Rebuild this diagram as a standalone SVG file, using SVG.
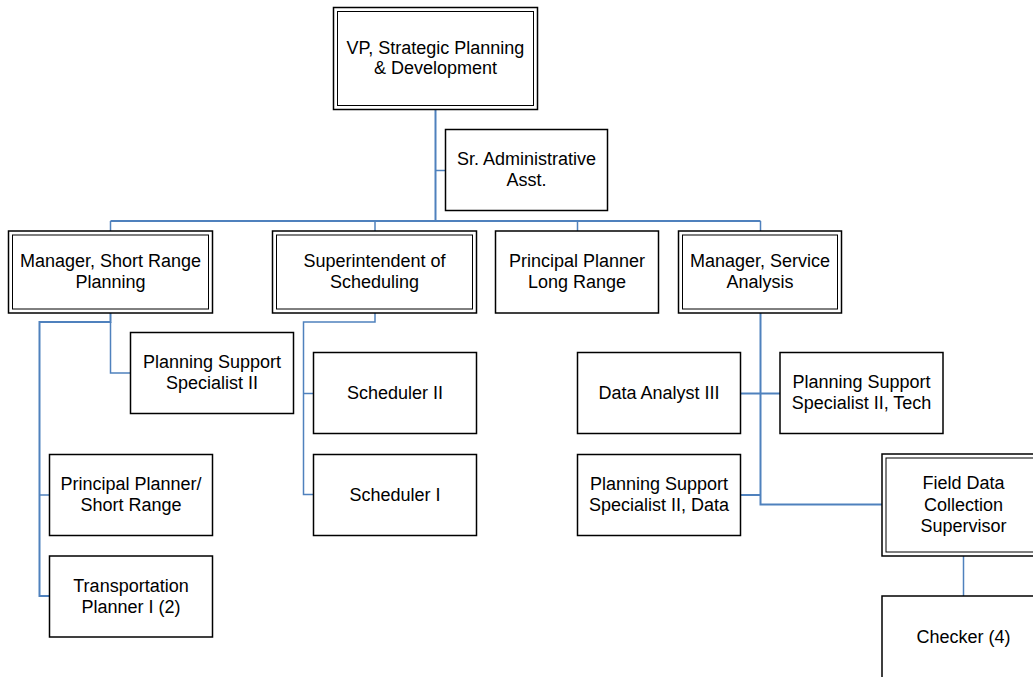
<svg xmlns="http://www.w3.org/2000/svg" width="1033" height="677" viewBox="0 0 1033 677">
  <style>
    .box { fill: #ffffff; stroke: #000000; stroke-width: 1.5; }
    .inner { fill: none; stroke: #000000; stroke-width: 1; }
    .label { font-family: "Liberation Sans", Arial, sans-serif; font-size: 18px; fill: #000000; text-anchor: middle; }
    .link { fill: none; stroke: #4F81BD; stroke-width: 2; }
    .link-thin { fill: none; stroke: #4F81BD; stroke-width: 1.5; }
  </style>
  <rect width="1033" height="677" fill="#ffffff"/>

  <!-- reporting lines -->
  <g id="connectors">
    <path class="link" d="M435.5 109.5 V221"/>
    <path class="link-thin" d="M435.5 170.5 H445.5"/>
    <path class="link" d="M110.5 221 H760.5"/>
    <path class="link-thin" d="M110.5 221 V231 M375 221 V231 M577.5 221 V231 M760.5 221 V231"/>
    <path class="link" d="M110.5 313 V322 H39.5 V596 H49.5"/>
    <path class="link-thin" d="M110.5 322 V373 H130.5"/>
    <path class="link-thin" d="M39.5 495 H49.5"/>
    <path class="link-thin" d="M375 313 V322 H303.5 V494.5 H313.5"/>
    <path class="link-thin" d="M303.5 393.5 H313.5"/>
    <path class="link" d="M760.5 313 V504.5 H882"/>
    <path class="link" d="M740.5 393.5 H780"/>
    <path class="link" d="M740.5 495 H760.5"/>
    <path class="link-thin" d="M963.5 556 V596"/>
  </g>

  <g id="vp">
    <rect class="box" x="333.5" y="7.5" width="204" height="102"/>
    <rect class="inner" x="337.5" y="11.5" width="196" height="94"/>
    <text class="label" x="435.5" y="53.6">VP, Strategic Planning</text>
    <text class="label" x="435.5" y="74.3">&amp; Development</text>
  </g>

  <g id="admin">
    <rect class="box" x="445.5" y="129.5" width="162" height="81"/>
    <text class="label" x="526.5" y="165.4">Sr. Administrative</text>
    <text class="label" x="526.5" y="186.1">Asst.</text>
  </g>

  <g id="mgr-short-range">
    <rect class="box" x="8.5" y="231" width="204" height="82"/>
    <rect class="inner" x="12.5" y="235" width="196" height="74"/>
    <text class="label" x="110.5" y="267.3">Manager, Short Range</text>
    <text class="label" x="110.5" y="288">Planning</text>
  </g>

  <g id="supt-scheduling">
    <rect class="box" x="272.5" y="231" width="204" height="82"/>
    <rect class="inner" x="276.5" y="235" width="196" height="74"/>
    <text class="label" x="374.5" y="267.3">Superintendent of</text>
    <text class="label" x="374.5" y="288">Scheduling</text>
  </g>

  <g id="principal-long-range">
    <rect class="box" x="495.5" y="231" width="163" height="82"/>
    <text class="label" x="577" y="267.3">Principal Planner</text>
    <text class="label" x="577" y="288">Long Range</text>
  </g>

  <g id="mgr-service-analysis">
    <rect class="box" x="678.5" y="231" width="163" height="82"/>
    <rect class="inner" x="682.5" y="235" width="155" height="74"/>
    <text class="label" x="760" y="267.3">Manager, Service</text>
    <text class="label" x="760" y="288">Analysis</text>
  </g>

  <g id="pss-2">
    <rect class="box" x="130.5" y="332.5" width="163" height="81"/>
    <text class="label" x="212" y="368.3">Planning Support</text>
    <text class="label" x="212" y="389">Specialist II</text>
  </g>

  <g id="principal-short-range">
    <rect class="box" x="49.5" y="454.5" width="163" height="81"/>
    <text class="label" x="131" y="490.3">Principal Planner/</text>
    <text class="label" x="131" y="511">Short Range</text>
  </g>

  <g id="transportation-planner">
    <rect class="box" x="49.5" y="556" width="163" height="81"/>
    <text class="label" x="131" y="591.8">Transportation</text>
    <text class="label" x="131" y="612.5">Planner I (2)</text>
  </g>

  <g id="scheduler-2">
    <rect class="box" x="313.5" y="352.5" width="163" height="81"/>
    <text class="label" x="395" y="399.3">Scheduler II</text>
  </g>

  <g id="scheduler-1">
    <rect class="box" x="313.5" y="454.5" width="163" height="81"/>
    <text class="label" x="395" y="501.3">Scheduler I</text>
  </g>

  <g id="data-analyst">
    <rect class="box" x="577.5" y="352.5" width="163" height="81"/>
    <text class="label" x="659" y="399.3">Data Analyst III</text>
  </g>

  <g id="pss-tech">
    <rect class="box" x="780" y="352.5" width="163" height="81"/>
    <text class="label" x="861.5" y="388.3">Planning Support</text>
    <text class="label" x="861.5" y="409">Specialist II, Tech</text>
  </g>

  <g id="pss-data">
    <rect class="box" x="577.5" y="454.5" width="163" height="81"/>
    <text class="label" x="659" y="490.3">Planning Support</text>
    <text class="label" x="659" y="511">Specialist II, Data</text>
  </g>

  <g id="field-supervisor">
    <rect class="box" x="882" y="454" width="163" height="102"/>
    <rect class="inner" x="886" y="458" width="155" height="94"/>
    <text class="label" x="963.5" y="489">Field Data</text>
    <text class="label" x="963.5" y="510.5">Collection</text>
    <text class="label" x="963.5" y="532">Supervisor</text>
  </g>

  <g id="checker">
    <rect class="box" x="882" y="596" width="163" height="82"/>
    <text class="label" x="963.5" y="642.7">Checker (4)</text>
  </g>
</svg>
